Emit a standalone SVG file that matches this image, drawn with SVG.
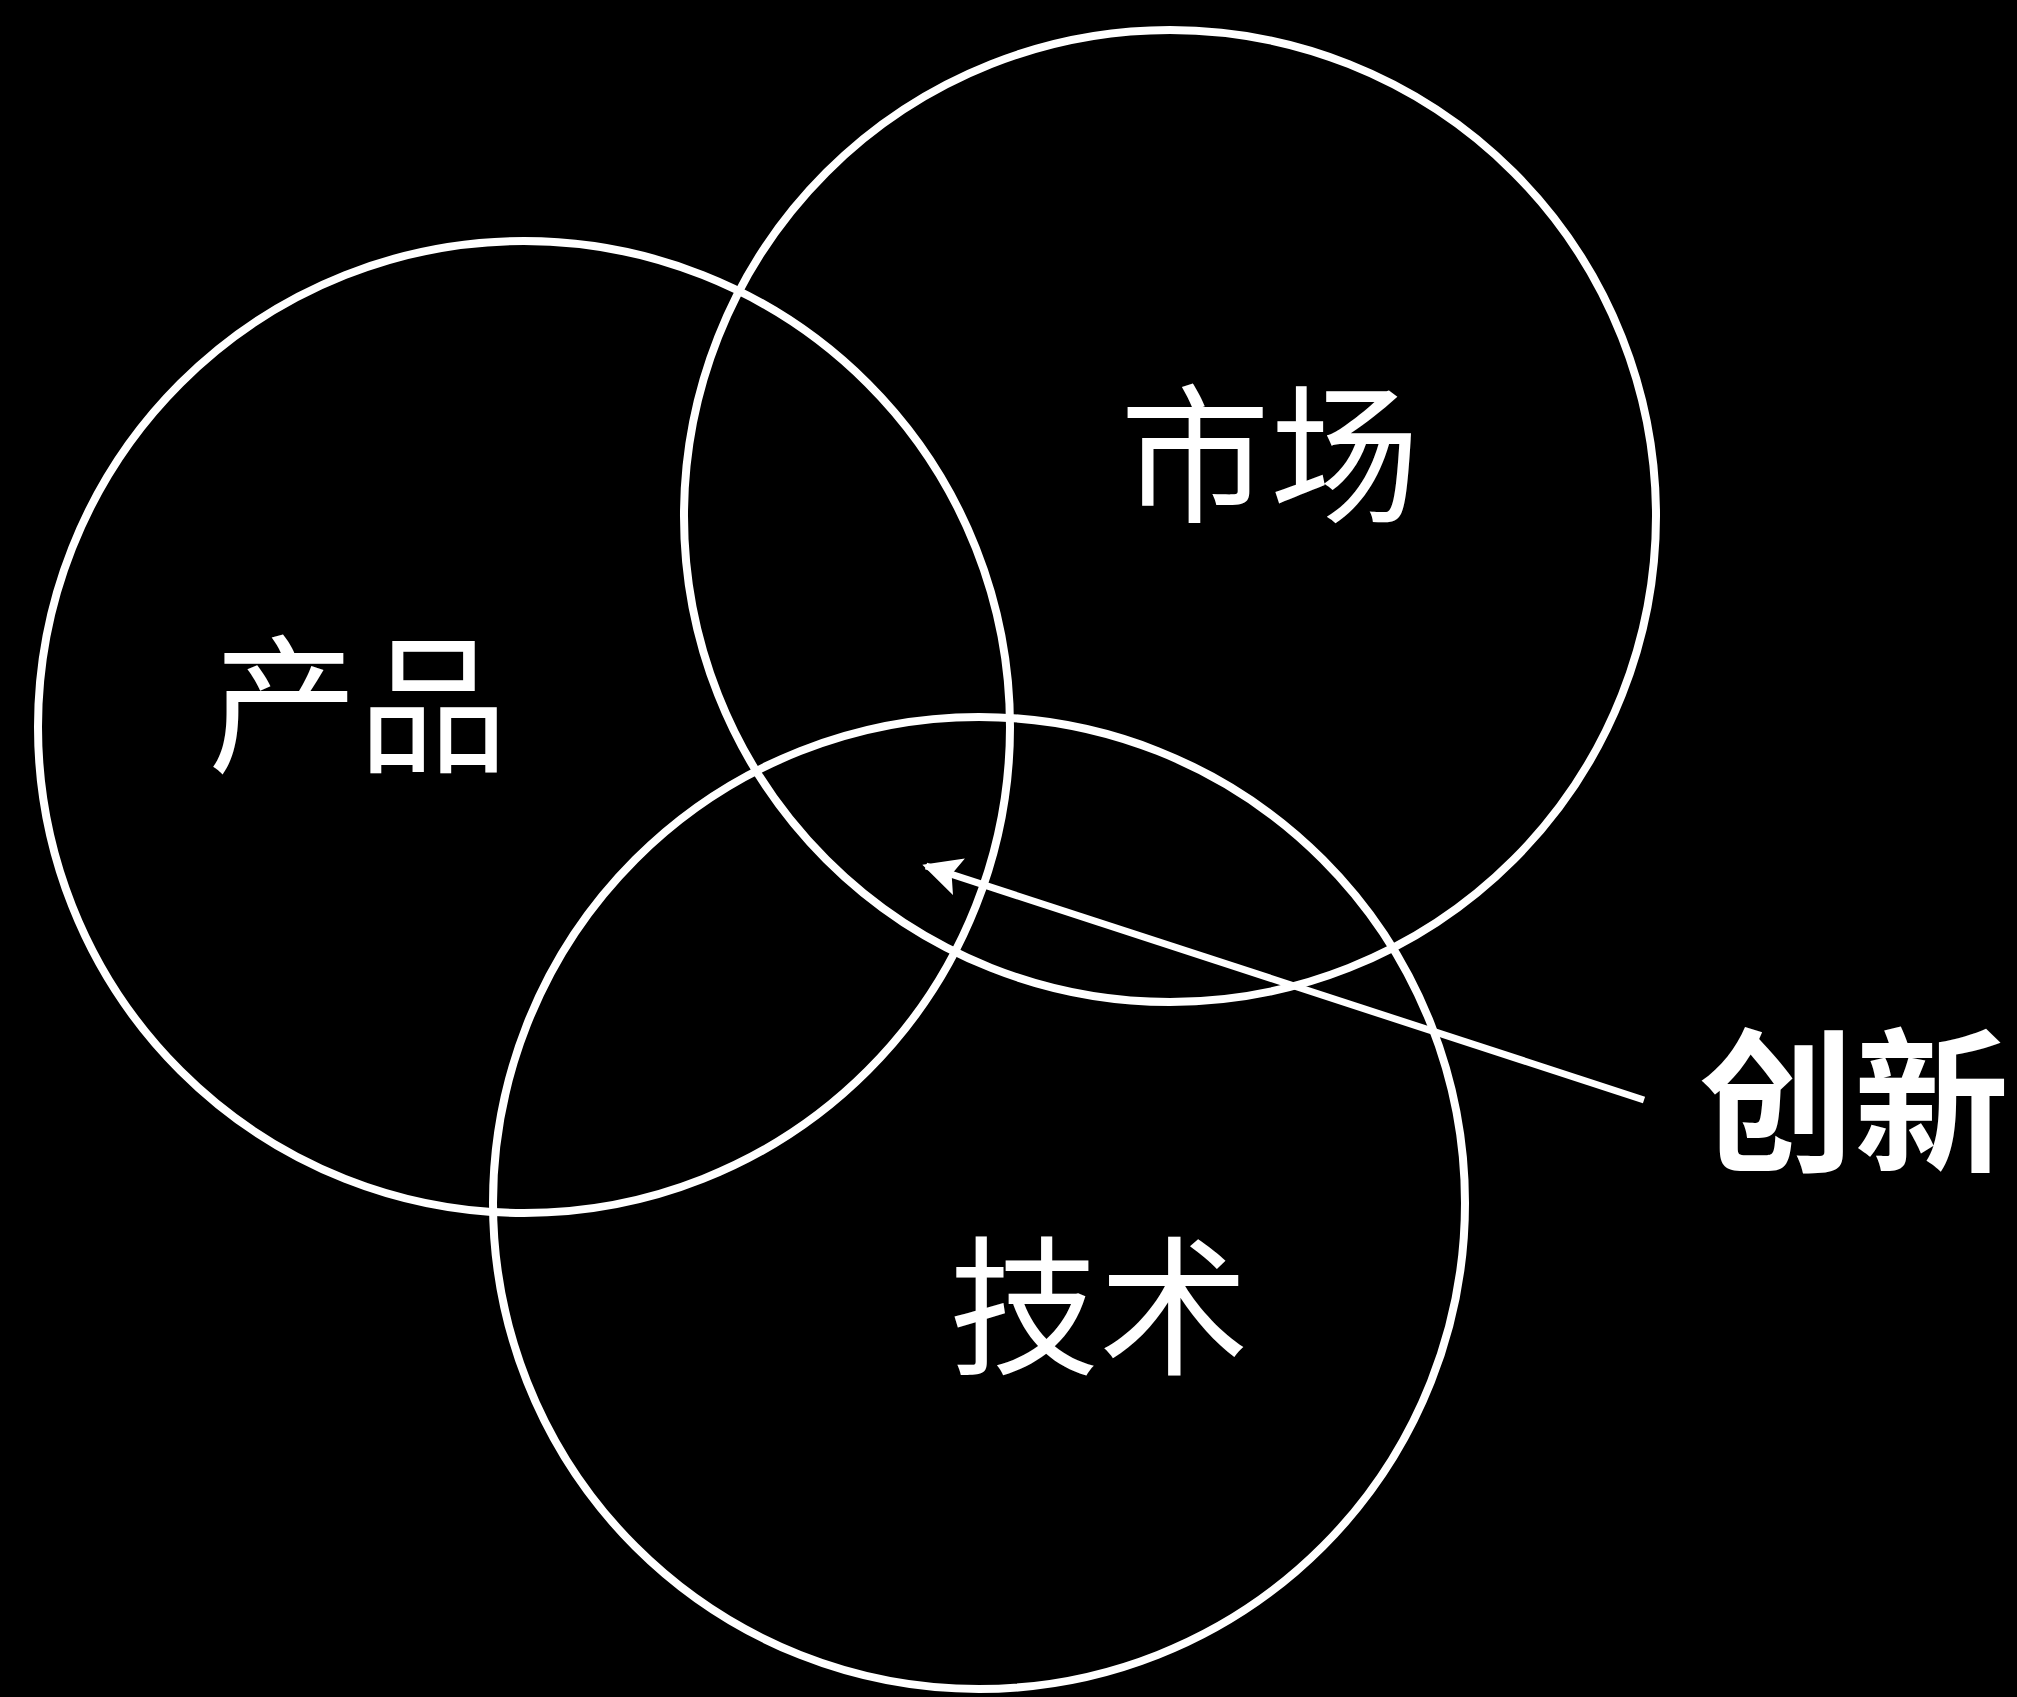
<svg xmlns="http://www.w3.org/2000/svg" width="2017" height="1697" viewBox="0 0 2017 1697">
<defs>
<style>
.c{fill:none;stroke:#fff;stroke-width:8}
.t{fill:#fff;font-family:"Noto Sans CJK SC","Noto Sans",sans-serif;font-size:150px;font-weight:400;text-anchor:middle;dominant-baseline:central}
.b{font-weight:700;font-size:155px}
</style>
<marker id="ah" viewBox="0 0 10 10" refX="9" refY="5" markerWidth="5.5" markerHeight="5.5" orient="auto" markerUnits="strokeWidth">
<path d="M0,0 L10,5 L0,10 L2,5 z" fill="#fff"/>
</marker>
</defs>
<rect width="2017" height="1697" fill="#000"/>
<g id="node-product"><circle class="c" cx="524" cy="727" r="486"/><text class="t" x="358" y="695">产品</text></g>
<g id="node-market"><circle class="c" cx="1170" cy="516" r="486"/><text class="t" x="1270" y="445">市场</text></g>
<g id="node-tech"><circle class="c" cx="979" cy="1203" r="486"/><text class="t" x="1099" y="1297">技术</text></g>
<g id="node-innovation"><text class="t b" x="1854" y="1091">创新</text></g>
<g id="connectors"><line x1="1644" y1="1100" x2="926" y2="866" stroke="#fff" stroke-width="7" marker-end="url(#ah)"/></g>
</svg>
